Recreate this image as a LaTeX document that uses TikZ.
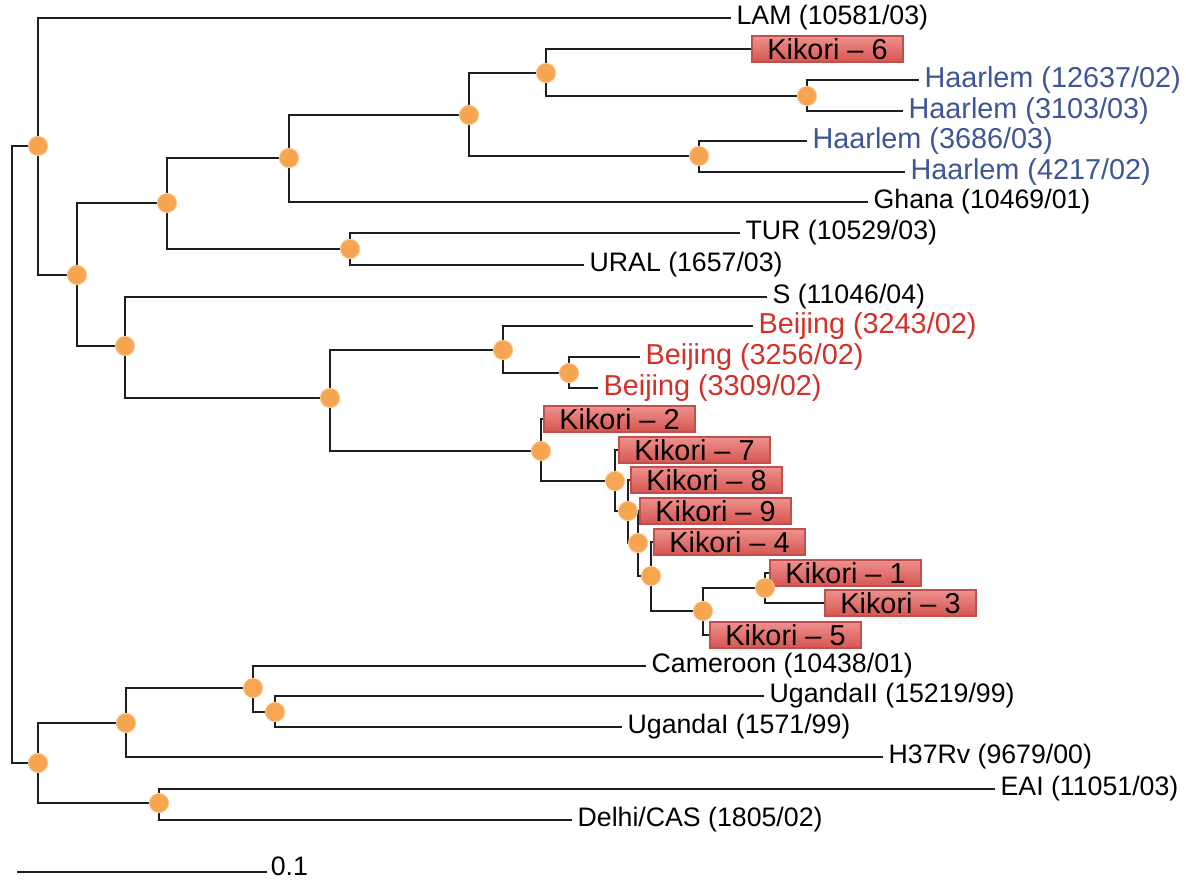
\documentclass[tikz,border=0pt]{standalone}
\usepackage{fontspec}
\setmainfont{Liberation Sans}
\usetikzlibrary{positioning}
\definecolor{branch}{RGB}{30,30,30}
\definecolor{haarlem}{RGB}{62,86,150}
\definecolor{beijing}{RGB}{212,48,40}
\definecolor{dotorange}{RGB}{246,166,80}
\definecolor{dotedge}{RGB}{250,200,150}
\definecolor{kikoritop}{RGB}{238,146,142}
\definecolor{kikoribot}{RGB}{214,84,80}
\definecolor{kikoriedge}{RGB}{192,80,77}

\begin{document}
\begin{tikzpicture}[x=0.02cm,y=-0.02cm]
			\tikzset{line/.style={draw=branch,line width=1.15pt}}
			\tikzset{dot/.style={shape=circle,inner sep=0pt,minimum size=11pt,fill=dotorange,draw=dotedge,line width=0.5pt}}
			\tikzset{leaf/.style={anchor=west,inner xsep=3pt,inner ysep=0pt,font=\fontsize{15.2}{18}\selectfont}}
			\tikzset{strain/.style={leaf,font=\fontsize{16.4}{19}\selectfont}}
			\tikzset{kikori/.style={anchor=west,draw=kikoriedge,line width=1.1pt,top color=kikoritop,bottom color=kikoribot,minimum width=86pt,minimum height=15.3pt,inner sep=0pt,font=\fontsize{16.4}{19}\selectfont}}

			\useasboundingbox (0,0) rectangle (1186,882);

			% inner nodes of the tree
			\coordinate (rt) at (12,454);
			\coordinate (nA) at (38,146);
			\coordinate (nB) at (38,763);
			\coordinate (nC) at (77,275);
			\coordinate (nD) at (167,203);
			\coordinate (nE) at (289,158);
			\coordinate (nF) at (350,249);
			\coordinate (nG) at (469,115);
			\coordinate (nH) at (546,73);
			\coordinate (nI) at (699,156);
			\coordinate (nJ) at (807,96);
			\coordinate (nK) at (125,346);
			\coordinate (nL) at (330,398);
			\coordinate (nM) at (503,350);
			\coordinate (nN) at (569,373);
			\coordinate (nO) at (541,451);
			\coordinate (nP) at (615,481);
			\coordinate (nQ) at (628,511);
			\coordinate (nR) at (638,543);
			\coordinate (nS) at (651,576);
			\coordinate (nT) at (703,611);
			\coordinate (nU) at (765,588);
			\coordinate (nV) at (126,723);
			\coordinate (nW) at (253,688);
			\coordinate (nX) at (275,712);
			\coordinate (nY) at (159,803);

			% leaves
			\node[leaf] (lam) at (731,18) {LAM (10581/03)};
			\node[kikori] (k6) at (751,49) {Kikori – 6};
			\node[strain,text=haarlem] (h1) at (919,80) {Haarlem (12637/02)};
			\node[strain,text=haarlem] (h2) at (903,111) {Haarlem (3103/03)};
			\node[strain,text=haarlem] (h3) at (807,141) {Haarlem (3686/03)};
			\node[strain,text=haarlem] (h4) at (905,172) {Haarlem (4217/02)};
			\node[leaf] (ghana) at (868,202) {Ghana (10469/01)};
			\node[leaf] (tur) at (740,233) {TUR (10529/03)};
			\node[leaf] (ural) at (584,265) {URAL (1657/03)};
			\node[leaf] (sst) at (767,297) {S (11046/04)};
			\node[strain,text=beijing] (b1) at (753,326) {Beijing (3243/02)};
			\node[strain,text=beijing] (b2) at (640,357) {Beijing (3256/02)};
			\node[strain,text=beijing] (b3) at (598,388) {Beijing (3309/02)};
			\node[kikori] (k2) at (543,419) {Kikori – 2};
			\node[kikori] (k7) at (618,450) {Kikori – 7};
			\node[kikori] (k8) at (630,480) {Kikori – 8};
			\node[kikori] (k9) at (639,511) {Kikori – 9};
			\node[kikori] (k4) at (653,542) {Kikori – 4};
			\node[kikori] (k1) at (769,573) {Kikori – 1};
			\node[kikori] (k3) at (824,603) {Kikori – 3};
			\node[kikori] (k5) at (709,635) {Kikori – 5};
			\node[leaf] (cam) at (646,666) {Cameroon (10438/01)};
			\node[leaf] (ug2) at (764,696) {UgandaII (15219/99)};
			\node[leaf] (ug1) at (622,727) {UgandaI (1571/99)};
			\node[leaf] (h37) at (883,757) {H37Rv (9679/00)};
			\node[leaf] (eai) at (995,789) {EAI (11051/03)};
			\node[leaf] (delhi) at (572,820) {Delhi/CAS (1805/02)};

			\path[line] (rt) |- (nA);
			\path[line] (rt) |- (nB);
			\path[line] (nA) |- (lam.west);
			\path[line] (nA) |- (nC);
			\path[line] (nC) |- (nD);
			\path[line] (nC) |- (nK);
			\path[line] (nD) |- (nE);
			\path[line] (nD) |- (nF);
			\path[line] (nE) |- (nG);
			\path[line] (nE) |- (ghana.west);
			\path[line] (nF) |- (tur.west);
			\path[line] (nF) |- (ural.west);
			\path[line] (nG) |- (nH);
			\path[line] (nG) |- (nI);
			\path[line] (nH) |- (k6.west);
			\path[line] (nH) |- (nJ);
			\path[line] (nJ) |- (h1.west);
			\path[line] (nJ) |- (h2.west);
			\path[line] (nI) |- (h3.west);
			\path[line] (nI) |- (h4.west);
			\path[line] (nK) |- (sst.west);
			\path[line] (nK) |- (nL);
			\path[line] (nL) |- (nM);
			\path[line] (nL) |- (nO);
			\path[line] (nM) |- (b1.west);
			\path[line] (nM) |- (nN);
			\path[line] (nN) |- (b2.west);
			\path[line] (nN) |- (b3.west);
			\path[line] (nO) |- (k2.west);
			\path[line] (nO) |- (nP);
			\path[line] (nP) |- (k7.west);
			\path[line] (nP) |- (nQ);
			\path[line] (nQ) |- (k8.west);
			\path[line] (nQ) |- (nR);
			\path[line] (nR) |- (k9.west);
			\path[line] (nR) |- (nS);
			\path[line] (nS) |- (k4.west);
			\path[line] (nS) |- (nT);
			\path[line] (nT) |- (nU);
			\path[line] (nT) |- (k5.west);
			\path[line] (nU) |- (k1.west);
			\path[line] (nU) |- (k3.west);
			\path[line] (nB) |- (nV);
			\path[line] (nB) |- (nY);
			\path[line] (nV) |- (nW);
			\path[line] (nV) |- (h37.west);
			\path[line] (nW) |- (cam.west);
			\path[line] (nW) |- (nX);
			\path[line] (nX) |- (ug2.west);
			\path[line] (nX) |- (ug1.west);
			\path[line] (nY) |- (eai.west);
			\path[line] (nY) |- (delhi.west);

			% dots on the inner nodes
			\node[dot] at (nA) {};
			\node[dot] at (nB) {};
			\node[dot] at (nC) {};
			\node[dot] at (nD) {};
			\node[dot] at (nE) {};
			\node[dot] at (nF) {};
			\node[dot] at (nG) {};
			\node[dot] at (nH) {};
			\node[dot] at (nI) {};
			\node[dot] at (nJ) {};
			\node[dot] at (nK) {};
			\node[dot] at (nL) {};
			\node[dot] at (nM) {};
			\node[dot] at (nN) {};
			\node[dot] at (nO) {};
			\node[dot] at (nP) {};
			\node[dot] at (nQ) {};
			\node[dot] at (nR) {};
			\node[dot] at (nS) {};
			\node[dot] at (nT) {};
			\node[dot] at (nU) {};
			\node[dot] at (nV) {};
			\node[dot] at (nW) {};
			\node[dot] at (nX) {};
			\node[dot] at (nY) {};

			% scale bar
			\coordinate (sb1) at (17,872);
			\node[leaf,inner xsep=2pt] (sbl) at (267,866) {0.1};
			\path[line] (sb1) -- (sbl.west |- sb1);
		\end{tikzpicture}
\end{document}
